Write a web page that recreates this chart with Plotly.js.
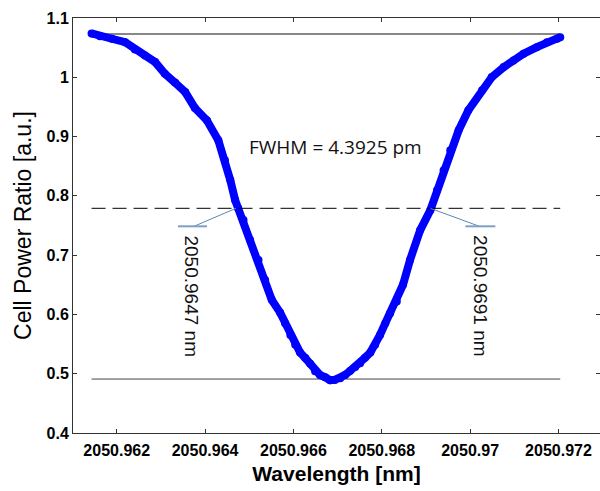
<!DOCTYPE html>
<html>
<head>
<meta charset="utf-8">
<script src="https://cdn.plot.ly/plotly-3.0.1.min.js"></script>
<style>html,body{margin:0;padding:0;background:#fff;overflow:hidden}#chart{width:600px;height:491px}</style>
</head>
<body>
<div id="chart"></div>
<script>
const wavelength = [
  2050.96143, 2050.96162, 2050.96189, 2050.96219, 2050.96241, 2050.96264, 2050.96287,
  2050.96309, 2050.96332, 2050.96355, 2050.96377, 2050.96404, 2050.96430, 2050.96445,
  2050.96457, 2050.96468, 2050.96475, 2050.96487, 2050.96502, 2050.96521, 2050.96536,
  2050.96551, 2050.96570, 2050.96581, 2050.96593, 2050.96604, 2050.96615, 2050.96627,
  2050.96638, 2050.96649, 2050.96660, 2050.96672, 2050.96683, 2050.96694, 2050.96706,
  2050.96717, 2050.96728, 2050.96740, 2050.96751, 2050.96762, 2050.96774, 2050.96785,
  2050.96796, 2050.96808, 2050.96819, 2050.96834, 2050.96848, 2050.96864, 2050.96887,
  2050.96910, 2050.96925, 2050.96940, 2050.96955, 2050.96974, 2050.96996, 2050.97027,
  2050.97049, 2050.97076, 2050.97098, 2050.97121, 2050.97151, 2050.97174, 2050.97197,
  2050.97204
];
const powerRatio = [
  1.074, 1.0694, 1.065, 1.0593, 1.047, 1.0369, 1.0256,
  1.006, 0.991, 0.975, 0.948, 0.9274, 0.8938, 0.860,
  0.8266, 0.793, 0.779, 0.7593, 0.7256, 0.6919, 0.6582,
  0.6246, 0.603, 0.585, 0.5655, 0.5487, 0.5357, 0.5263,
  0.5167, 0.504, 0.498, 0.494, 0.489, 0.4897, 0.4925,
  0.498, 0.5045, 0.5115, 0.5178, 0.527, 0.5357, 0.5487,
  0.5655, 0.5852, 0.602, 0.622, 0.650, 0.692, 0.7423,
  0.776, 0.8096, 0.8433, 0.877, 0.9106, 0.9443, 0.978,
  1.0003, 1.0172, 1.0285, 1.0397, 1.0508, 1.0593, 1.065,
  1.0677
];
// Reference levels
const refSpan = [2050.96143, 2050.97204];
const maxLevel = 1.073;
const halfLevel = 0.779;
const minLevel = 0.491;
// FWHM crossings
const crossings = [2050.9647, 2050.9691];
const crossingLabels = ['2050.9647 nm', '2050.9691 nm'];
const fwhmText = 'FWHM = 4.3925 pm';
const fwhmPos = [2050.96696, 0.8825];
const labelY = 0.6303;
// Axis ticks
const xTickVals = [2050.962, 2050.964, 2050.966, 2050.968, 2050.970, 2050.972];
const xTickText = ['2050.962', '2050.964', '2050.966', '2050.968', '2050.97', '2050.972'];
const yTickVals = [0.4, 0.5, 0.6, 0.7, 0.8, 0.9, 1.0, 1.1];
const yTickText = ['0.4', '0.5', '0.6', '0.7', '0.8', '0.9', '1', '1.1'];

const axisColor = '#333333';
const leaderColor = '#5b87b5';

const traces = [
  {x: refSpan, y: [maxLevel, maxLevel], mode: 'lines', line: {color: '#111', width: 1}, hoverinfo: 'skip'},
  {x: refSpan, y: [minLevel, minLevel], mode: 'lines', line: {color: '#444', width: 1}, hoverinfo: 'skip'},
  {x: wavelength, y: powerRatio, mode: 'lines+markers', line: {color: '#0000ff', width: 8},
   marker: {color: '#0000ff', size: 8}},
  {x: refSpan, y: [halfLevel, halfLevel], mode: 'lines', line: {color: '#000', width: 1, dash: '14px,7px'}, hoverinfo: 'skip'}
];

const leaderOffsets = [
  {tip: -42, bar: [-58, -29], text: -44},
  {tip: 49, bar: [35, 65], text: 50}
];

const shapes = [];
const annotations = [];
crossings.forEach((cx, i) => {
  const o = leaderOffsets[i];
  shapes.push({type: 'line', xref: 'x', yref: 'y', xsizemode: 'pixel', ysizemode: 'pixel',
    xanchor: cx, yanchor: halfLevel, x0: 0, x1: o.tip, y0: 0, y1: -18,
    line: {color: leaderColor, width: 1}});
  shapes.push({type: 'line', xref: 'x', yref: 'y', xsizemode: 'pixel', ysizemode: 'pixel',
    xanchor: cx, yanchor: halfLevel, x0: o.bar[0], x1: o.bar[1], y0: -18, y1: -18,
    line: {color: '#7f9fc4', width: 2}});
  annotations.push({x: cx, y: labelY, xref: 'x', yref: 'y', xshift: o.text, showarrow: false,
    text: crossingLabels[i], textangle: 90,
    font: {family: 'Liberation Sans, Arial', size: 19, color: '#111'}});
});
annotations.push({x: fwhmPos[0], y: fwhmPos[1], xref: 'x', yref: 'y', showarrow: false,
  text: fwhmText, font: {family: 'Open Sans, Liberation Sans', size: 19, color: '#111'}});

const tickFont = {family: 'Liberation Sans, Arial', size: 16, color: '#000', weight: 'bold'};

const layout = {
  width: 600, height: 491,
  margin: {l: 73, r: 0, t: 18, b: 58},
  paper_bgcolor: '#fff', plot_bgcolor: '#fff',
  showlegend: false,
  xaxis: {
    range: [2050.96101, 2050.97294], tickmode: 'array', tickvals: xTickVals, ticktext: xTickText,
    showline: true, linecolor: axisColor, linewidth: 1, mirror: 'ticks',
    ticks: 'inside', ticklen: 4, tickcolor: axisColor, showgrid: false, zeroline: false,
    tickfont: tickFont, ticklabelstandoff: 3,
    title: {text: 'Wavelength [nm]', font: {family: 'Liberation Sans, Arial', size: 21, weight: 'bold', color: '#000'}, standoff: 8}
  },
  yaxis: {
    range: [0.4, 1.1], tickmode: 'array', tickvals: yTickVals, ticktext: yTickText,
    showline: true, linecolor: axisColor, linewidth: 1, mirror: 'ticks',
    ticks: 'inside', ticklen: 4, tickcolor: axisColor, showgrid: false, zeroline: false,
    tickfont: tickFont,
    title: {text: 'Cell Power Ratio [a.u.]', font: {family: 'Liberation Sans, Arial', size: 23, color: '#000'}, standoff: 8}
  },
  shapes: shapes,
  annotations: annotations
};

Plotly.newPlot('chart', traces, layout, {staticPlot: true, displayModeBar: false});
</script>
</body>
</html>
